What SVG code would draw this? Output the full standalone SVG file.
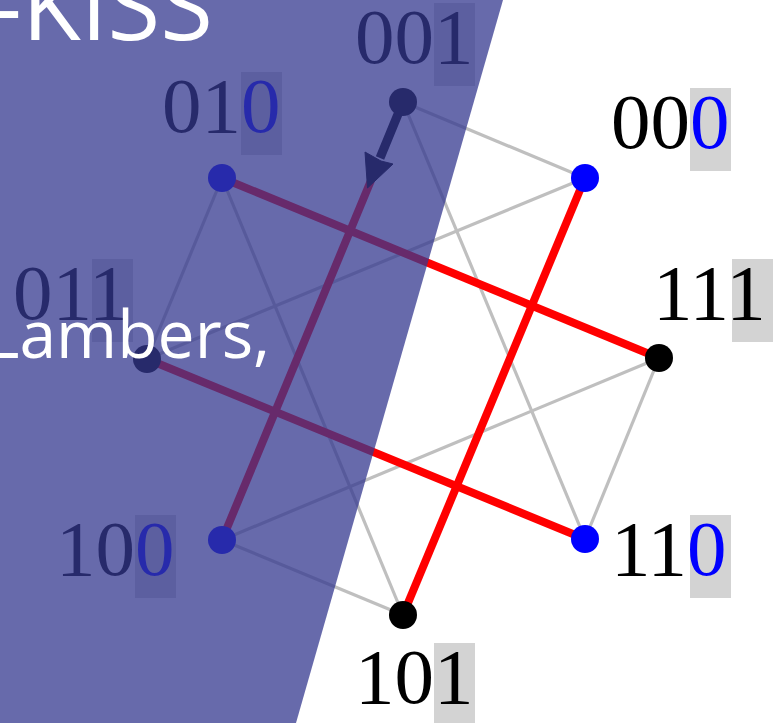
<svg xmlns="http://www.w3.org/2000/svg" width="781" height="723" viewBox="0 0 781 723">
  <style>
    .edge { stroke: #bfbfbf; stroke-width: 3.2; fill: none; }
    .red { stroke: #ff0000; stroke-width: 8; fill: none; }
    .lbl { font-family: "Liberation Serif", "DejaVu Serif", serif; font-size: 79px; fill: #000; }
    .b { fill: #0000ff; }
    .hl { fill: #d3d3d3; }
    .n0 { fill: #0000ff; }
    .n1 { fill: #000000; }
    .title { font-family: "Open Sans", "Noto Sans", sans-serif; fill: #ffffff; }
  </style>
  <rect width="781" height="723" fill="#ffffff"/>
  <g id="connectors">
    <line class="edge" x1="403" y1="102" x2="585" y2="178"/>
    <line class="edge" x1="403" y1="102" x2="585" y2="539"/>
    <line class="edge" x1="222" y1="178" x2="147" y2="359"/>
    <line class="edge" x1="222" y1="178" x2="403" y2="615"/>
    <line class="edge" x1="147" y1="359" x2="585" y2="178"/>
    <line class="edge" x1="222" y1="540" x2="659" y2="358"/>
    <line class="edge" x1="222" y1="540" x2="403" y2="615"/>
    <line class="edge" x1="659" y1="358" x2="585" y2="539"/>
    <line class="red" x1="222" y1="178" x2="659" y2="358"/>
    <line class="red" x1="147" y1="359" x2="585" y2="539"/>
    <line class="red" x1="585" y1="178" x2="403" y2="615"/>
    <line class="red" x1="222" y1="540" x2="372" y2="178"/>
    <line x1="403" y1="102" x2="380" y2="158" stroke="#000" stroke-width="9"/>
    <path d="M367.5,188 L393,164 L381,161 L365,152 Z" fill="#000" stroke="#000" stroke-width="1" stroke-linejoin="round"/>
  </g>
  <g id="n001">
    <rect class="hl" x="434" y="3" width="41" height="83"/>
    <text class="lbl" x="355" y="63">00<tspan>1</tspan></text>
    <circle class="n1" cx="403" cy="102" r="14"/>
  </g>
  <g id="n010">
    <rect class="hl" x="241" y="72" width="41" height="83"/>
    <text class="lbl" x="162" y="132">01<tspan class="b">0</tspan></text>
    <circle class="n0" cx="222" cy="178" r="14"/>
  </g>
  <g id="n000">
    <rect class="hl" x="690" y="88" width="41" height="83"/>
    <text class="lbl" x="611" y="148">00<tspan class="b">0</tspan></text>
    <circle class="n0" cx="585" cy="178" r="14"/>
  </g>
  <g id="n111">
    <rect class="hl" x="732" y="259" width="41" height="83"/>
    <text class="lbl" x="653" y="319">11<tspan>1</tspan></text>
    <circle class="n1" cx="659" cy="358" r="14"/>
  </g>
  <g id="n011">
    <rect class="hl" x="92" y="259" width="41" height="83"/>
    <text class="lbl" x="13" y="319">01<tspan>1</tspan></text>
    <circle class="n1" cx="147" cy="359" r="14"/>
  </g>
  <g id="n100">
    <rect class="hl" x="135" y="515" width="41" height="83"/>
    <text class="lbl" x="56" y="575">10<tspan class="b">0</tspan></text>
    <circle class="n0" cx="222" cy="540" r="14"/>
  </g>
  <g id="n110">
    <rect class="hl" x="690" y="515" width="41" height="83"/>
    <text class="lbl" x="611" y="575">11<tspan class="b">0</tspan></text>
    <circle class="n0" cx="585" cy="539" r="14"/>
  </g>
  <g id="n101">
    <rect class="hl" x="434" y="643" width="41" height="83"/>
    <text class="lbl" x="355" y="703">10<tspan>1</tspan></text>
    <circle class="n1" cx="403" cy="615" r="14"/>
  </g>
  <polygon points="0,0 503,0 296,723 0,723" fill="#34388f" fill-opacity="0.75"/>
  <text class="title" x="-9" y="40" font-size="96">-KISS</text>
  <text class="title" x="-15" y="358" font-size="66">Lambers,</text>
</svg>
